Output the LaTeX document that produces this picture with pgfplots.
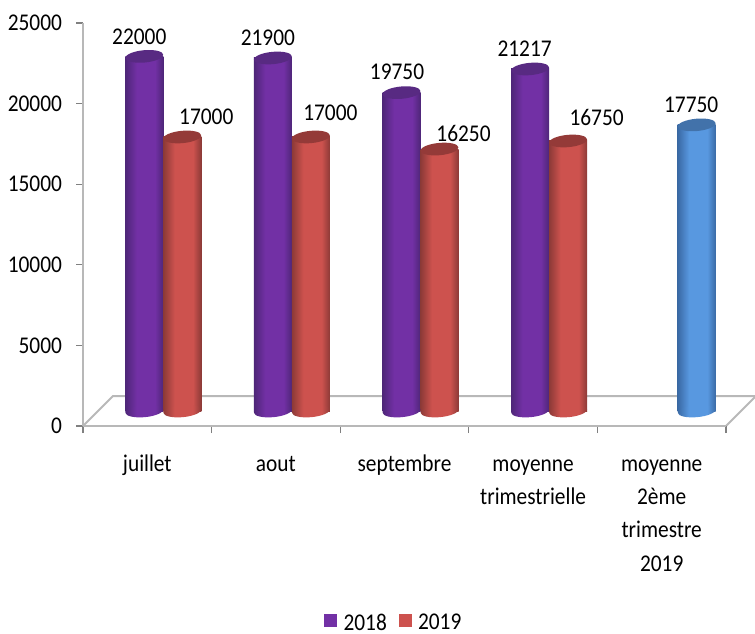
\documentclass[border=0pt]{standalone}
\usepackage{fontspec}
\setmainfont{Carlito}[FakeStretch=0.89]
\usepackage{pgfplots}
\usepackage{pgfplotstable}
\pgfplotsset{compat=1.18}

\definecolor{axisgray}{RGB}{184,184,184}
\definecolor{Cpurple}{RGB}{114,48,165}
\definecolor{CpurpleD}{RGB}{78,38,120}
\definecolor{CpurpleT}{RGB}{88,42,130}
\definecolor{Cred}{RGB}{205,82,78}
\definecolor{CredD}{RGB}{140,58,55}
\definecolor{CredT}{RGB}{148,58,56}
\definecolor{Cblue}{RGB}{88,152,224}
\definecolor{CblueD}{RGB}{58,106,165}
\definecolor{CblueT}{RGB}{66,114,170}

\pgfdeclarehorizontalshading{cylpurple}{100bp}{color(0bp)=(CpurpleD); color(25bp)=(CpurpleD); color(40bp)=(Cpurple); color(64bp)=(Cpurple); color(75bp)=(CpurpleD); color(100bp)=(CpurpleD)}
\pgfdeclarehorizontalshading{cylred}{100bp}{color(0bp)=(CredD); color(25bp)=(CredD); color(40bp)=(Cred); color(64bp)=(Cred); color(75bp)=(CredD); color(100bp)=(CredD)}
\pgfdeclarehorizontalshading{cylblue}{100bp}{color(0bp)=(CblueD); color(25bp)=(CblueD); color(40bp)=(Cblue); color(64bp)=(Cblue); color(75bp)=(CblueD); color(100bp)=(CblueD)}

% cylinder ends, tilted a little
\newcommand{\capellipse}{\pgfpathellipse{\pgfpointorigin}{\pgfpoint{14.2pt}{1.3pt}}{\pgfpoint{-0.4pt}{4.6pt}}}
\pgfdeclareplotmark{toppurple}{\capellipse\pgfsetfillcolor{CpurpleT}\pgfusepathqfill}
\pgfdeclareplotmark{topred}{\capellipse\pgfsetfillcolor{CredT}\pgfusepathqfill}
\pgfdeclareplotmark{topblue}{\capellipse\pgfsetfillcolor{CblueT}\pgfusepathqfill}
\pgfdeclareplotmark{botpurple}{\capellipse\pgfshadepath{cylpurple}{0}\pgfusepath{discard}}
\pgfdeclareplotmark{botred}{\capellipse\pgfshadepath{cylred}{0}\pgfusepath{discard}}
\pgfdeclareplotmark{botblue}{\capellipse\pgfshadepath{cylblue}{0}\pgfusepath{discard}}

% dx, dy: label offset in reference pixels
\pgfplotstableread{
x y dx dy
0 22000 -5 20
1 21900 -5 20
2 19750 -4.5 21
3 21217 -5.5 20
}\datapurple
\pgfplotstableread{
x y dx dy
0 17000 24 20
1 17000 19.5 24
2 16250 24 16
3 16750 28.5 24
}\datared
\pgfplotstableread{
x y dx dy
4 17750 -5.5 20
}\datablue

% table, colour name, x shift, category: one plot per bar so each gets its own shading
\newcommand{\cylinder}[4]{
  \addplot[forget plot, only marks, mark=bot#2, xshift=#3, yshift=11.25pt, restrict x to domain=#4:#4] table[x=x, y expr=0] {#1};
  \addplot[forget plot, ybar, bar width=28.5pt, draw=none, shade, shading=cyl#2, xshift=#3, yshift=11.25pt, restrict x to domain=#4:#4] table[x=x, y=y] {#1};
  \addplot[forget plot, only marks, mark=top#2, xshift=#3, yshift=11.25pt, restrict x to domain=#4:#4,
    point meta=explicit symbolic,
    visualization depends on={\thisrow{dx} \as \labdx},
    visualization depends on={\thisrow{dy} \as \labdy},
    nodes near coords,
    nodes near coords style={anchor=center, inner sep=0pt, xshift=\labdx*0.75pt, yshift=\labdy*0.75pt}
  ] table[x=x, y=y, meta=y] {#1};
}

\begin{document}
\begin{tikzpicture}[x=0.75pt, y=0.75pt, font=\fontsize{18pt}{25pt}\selectfont]
  \useasboundingbox (-83,-207) rectangle (672,426);
  % floor of the 3D box
  \draw[axisgray, line width=1.5pt] (0,0) -- (30,30) -- (672,30);
  \draw[axisgray, line width=1.5pt] (643,0) -- (672,29);
  \begin{axis}[
    at={(0,0)}, anchor=south west,
    scale only axis,
    width=482.25pt,
    height=302.25pt,
    xmin=-0.5, xmax=4.5,
    ymin=0, ymax=25000,
    clip=false,
    axis lines=left,
    axis line style={axisgray, line width=1.5pt, -},
    tick align=outside,
    tick pos=left,
    xtick={0,1,2,3,4},
    minor xtick={-0.5,0.5,1.5,2.5,3.5,4.5},
    xticklabels={{\strut juillet}, {\strut aout}, {\strut septembre}, {\strut moyenne\\trimestrielle}, {\strut moyenne\\2ème\\trimestre\\2019}},
    xticklabel style={align=center, anchor=north, yshift=-7.5pt},
    major x tick style={draw=none},
    minor x tick style={gray, line width=0.8pt},
    minor tick length=5.25pt,
    ytick={0,5000,10000,15000,20000,25000},
    y tick style={gray, line width=0.8pt},
    major tick length=5.25pt,
    yticklabel style={xshift=-7pt},
    scaled y ticks=false,
    /pgf/number format/assume math mode=true,
    /pgf/number format/set thousands separator={},
    legend style={at={(0.484,-0.489)}, anchor=center, draw=none, fill=none, legend columns=2,
      /tikz/every even column/.append style={column sep=7pt},
      /tikz/every odd column/.append style={column sep=3pt}},
    legend cell align=left,
    legend image code/.code={\fill[#1] (0pt,-2.5pt) rectangle (9pt,6.5pt);},
  ]
    \cylinder{\datapurple}{purple}{-2.25pt}{0}
    \cylinder{\datapurple}{purple}{-2.25pt}{1}
    \cylinder{\datapurple}{purple}{-2.25pt}{2}
    \cylinder{\datapurple}{purple}{-2.25pt}{3}
    \cylinder{\datared}{red}{26.25pt}{0}
    \cylinder{\datared}{red}{26.25pt}{1}
    \cylinder{\datared}{red}{26.25pt}{2}
    \cylinder{\datared}{red}{26.25pt}{3}
    \cylinder{\datablue}{blue}{26.25pt}{4}
    \addlegendimage{Cpurple}
    \addlegendentry{2018}
    \addlegendimage{Cred}
    \addlegendentry{2019}
  \end{axis}
\end{tikzpicture}
\end{document}
